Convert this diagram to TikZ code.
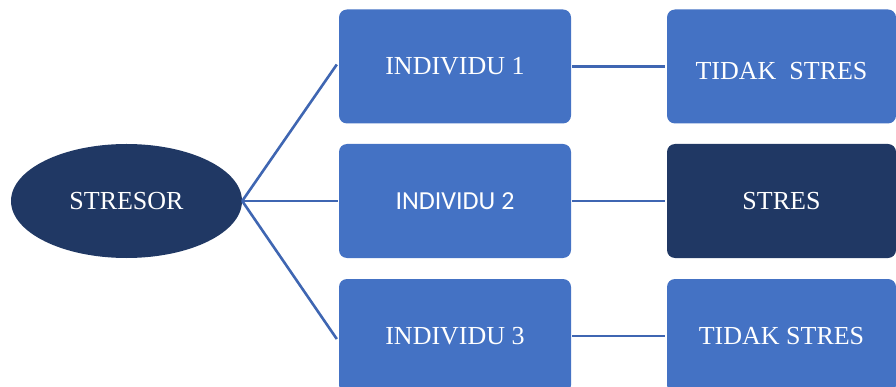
\documentclass[tikz,border=0pt]{standalone}
\usepackage{fontspec}
\setmainfont{Liberation Serif}
\newfontfamily\calibrilike{Carlito}
\usetikzlibrary{shapes.geometric}
\definecolor{boxblue}{HTML}{4472C4}
\definecolor{navy}{HTML}{203864}
\definecolor{linkblue}{HTML}{3F66B2}
\begin{document}
\begin{tikzpicture}[x=1pt,y=-1pt,
  every node/.style={text=white,font=\fontsize{26}{30}\selectfont,inner sep=0pt},
  every label/.style={text=white,font=\fontsize{26}{30}\selectfont,inner sep=0pt},
  ibox/.style={rectangle,rounded corners=8pt,fill=boxblue,minimum width=232pt,minimum height=114pt},
  obox/.style={rectangle,rounded corners=8pt,fill=boxblue,minimum width=229pt,minimum height=114pt},
  link/.style={draw=linkblue,line width=2.6pt}]
\useasboundingbox (0,0) rectangle (896,387);
% central stressor
\node[ellipse,fill=navy,minimum width=231pt,minimum height=114pt] (s) at (126.5,201) {STRESOR};
% individuals
\node[ibox] (i1) at (455,66.5) {INDIVIDU 1};
\node[ibox] (i2) at (455,201) {\calibrilike INDIVIDU 2};
\node[ibox] (i3) at (455,336) {INDIVIDU 3};
% outcomes
\node[obox,label={[yshift=-5pt]center:TIDAK~~STRES}] (o1) at (781.5,66.5) {};
\node[obox,fill=navy] (o2) at (781.5,201) {STRES};
\node[obox] (o3) at (781.5,336) {TIDAK STRES};
% connectors
\draw[link] (s.east) -- ([xshift=-2pt,yshift=2pt]i1.west);
\draw[link] (s.east) -- ([xshift=-1pt]i2.west);
\draw[link] (s.east) -- ([xshift=-2pt,yshift=-3pt]i3.west);
\draw[link] ([xshift=1pt]i1.east) -- ([xshift=-2pt]o1.west);
\draw[link] ([xshift=1pt]i2.east) -- ([xshift=-2pt]o2.west);
\draw[link] ([xshift=1pt]i3.east) -- ([xshift=-2pt]o3.west);
\end{tikzpicture}
\end{document}
